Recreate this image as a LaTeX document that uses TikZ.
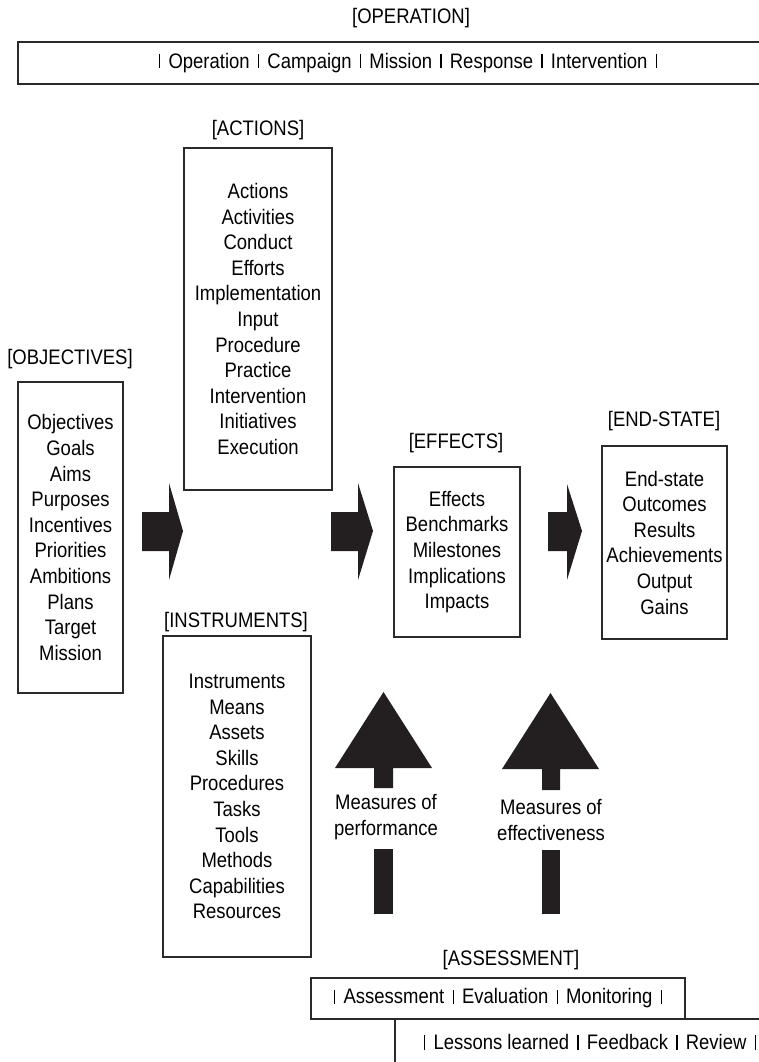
\documentclass[tikz,border=0pt]{standalone}
\usepackage{fontspec}
\setmainfont{Liberation Sans}[FakeStretch=0.88]
\newcommand\diagfont{\fontsize{21}{25.6}\selectfont}
\newcommand\sepbar{\hspace{0.15em}\rule{1.2pt}{0.68em}\hspace{0.15em}}
\definecolor{linec}{HTML}{2A2A2A}
\definecolor{arrc}{HTML}{231F20}
\begin{document}
\begin{tikzpicture}[x=1pt,y=-1pt,
  box/.style={draw=linec, line width=1.3pt, inner sep=0pt, align=center, font=\diagfont},
  lbl/.style={inner sep=0pt, align=center, font=\diagfont},
  edge/.style={draw=linec, line width=1.3pt},
  blk/.style={fill=arrc, draw=none}]
\useasboundingbox (0,0) rectangle (759,1062);

% Operation bar
\coordinate (opTR) at (759,42);
\coordinate (opTL) at (18,42);
\coordinate (opBL) at (18,84);
\coordinate (opBR) at (759,84);
\draw[edge] (opTR) -- (opTL) -- (opBL) -- (opBR);
\node[lbl] (oplbl) at (411,18) {[OPERATION]};
\node[lbl] (optxt) at (408,63) {\sepbar{} Operation \sepbar{} Campaign \sepbar{} Mission \sepbar{} Response \sepbar{} Intervention \sepbar};

% Boxes
\node[box, minimum width=105pt, minimum height=311pt] (obj) at (70.5,537.5)
  {Objectives\\Goals\\Aims\\Purposes\\Incentives\\Priorities\\Ambitions\\Plans\\Target\\Mission};
\node[lbl] (objlbl) at (70,359) {[OBJECTIVES]};

\node[box, minimum width=148pt, minimum height=342pt] (act) at (258,319)
  {Actions\\Activities\\Conduct\\Efforts\\Implementation\\Input\\Procedure\\Practice\\Intervention\\Initiatives\\Execution};
\node[lbl] (actlbl) at (258,130) {[ACTIONS]};

\node[box, minimum width=148pt, minimum height=321pt] (ins) at (237,796.5)
  {Instruments\\Means\\Assets\\Skills\\Procedures\\Tasks\\Tools\\Methods\\Capabilities\\Resources};
\node[lbl] (inslbl) at (236,622) {[INSTRUMENTS]};

\node[box, minimum width=126pt, minimum height=170pt] (eff) at (457,552)
  {Effects\\Benchmarks\\Milestones\\Implications\\Impacts};
\node[lbl] (efflbl) at (456,443) {[EFFECTS]};

\node[box, minimum width=125pt, minimum height=193pt] (end) at (664.5,542.5)
  {End-state\\Outcomes\\Results\\Achievements\\Output\\Gains};
\node[lbl] (endlbl) at (664,421) {[END-STATE]};

% Right block arrows
\fill[blk] (142,512) -- (169,512) -- (169,483) -- (183,531) -- (169,580) -- (169,551) -- (142,551) -- cycle;
\fill[blk] (331,512) -- (358,512) -- (358,483) -- (373,531) -- (358,580) -- (358,551) -- (331,551) -- cycle;
\fill[blk] (548,512) -- (567,512) -- (567,484) -- (582,531) -- (567,580) -- (567,551) -- (548,551) -- cycle;

% Up arrows
\fill[blk] (383.5,692) -- (432,768) -- (393,768) -- (393,788) -- (374,788) -- (374,768) -- (335,768) -- cycle;
\fill[blk] (374,849) rectangle (393,914);
\node[lbl] (mop) at (386,817) {Measures of\\performance};

\fill[blk] (550.5,693) -- (599,769) -- (560,769) -- (560,790) -- (542,790) -- (542,769) -- (502,769) -- cycle;
\fill[blk] (542,850) rectangle (560,914);
\node[lbl] (moe) at (551,820) {Measures of\\effectiveness};

% Assessment
\node[lbl] (asslbl) at (511,960) {[ASSESSMENT]};
\node[box, minimum width=374pt, minimum height=41pt] (ass) at (498,998.5)
  {\sepbar{} Assessment \sepbar{} Evaluation \sepbar{} Monitoring \sepbar};

% Lessons
\coordinate (lesTR) at (759,1019);
\coordinate (lesTL) at (395,1019);
\coordinate (lesBL) at (395,1062);
\draw[edge] (lesTR) -- (lesTL) -- (lesBL);
\node[lbl] (lestxt) at (590,1042) {\sepbar{} Lessons learned \sepbar{} Feedback \sepbar{} Review \sepbar};
\end{tikzpicture}
\end{document}
